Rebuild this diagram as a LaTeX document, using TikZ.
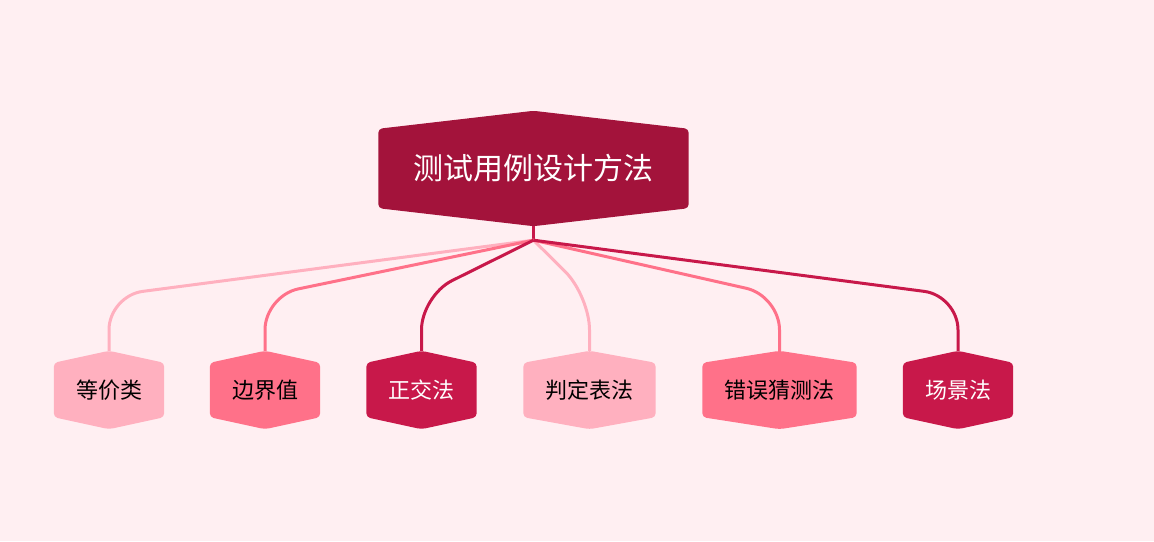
\documentclass[tikz,border=0pt]{standalone}
\usepackage{fontspec}
\newfontfamily\cjk{Noto Sans CJK SC}
\usetikzlibrary{positioning}

\definecolor{bgpink}{HTML}{FFEFF2}
\definecolor{rootred}{HTML}{A3133B}
\definecolor{lightpink}{HTML}{FFB0BF}
\definecolor{midpink}{HTML}{FF7189}
\definecolor{darkpink}{HTML}{C8184A}
\pgfdeclarelayer{bg}
\pgfdeclarelayer{hex}
\pgfsetlayers{bg,hex,main}

\begin{document}
\begin{tikzpicture}[x = 1pt, y = 1pt,
	topic/.style = {inner xsep = 35, inner ysep = 0, minimum height = 79, text = white, font = \cjk\fontsize{30}{34}\selectfont},
	leaf/.style = {inner xsep = 22, inner ysep = 0, minimum height = 54, font = \cjk\fontsize{22}{26}\selectfont},
	link/.style = {line width = 3, rounded corners = 34}]
	\useasboundingbox (0,0) rectangle (1154,541);
	\begin{pgfonlayer}{bg}
		\fill[bgpink] (0,0) rectangle (1154,541);
	\end{pgfonlayer}

	\node[topic] (ROOT) at (533.5,372.5) {测试用例设计方法};
	\node[leaf, text = black] (K1) at (109,151) {等价类};
	\node[leaf, text = black] (K2) at (265,151) {边界值};
	\node[leaf, text = white] (K3) at (421.5,151) {正交法};
	\node[leaf, text = black] (K4) at (589.5,151) {判定表法};
	\node[leaf, text = black] (K5) at (779.5,151) {错误猜测法};
	\node[leaf, text = white] (K6) at (958,151) {场景法};
	\coordinate (HUB) at ([yshift=-32]ROOT.south);

	\begin{pgfonlayer}{hex}
		% hexagons behind the labels
		\foreach \n/\c/\h in {ROOT/rootred/18, K1/lightpink/12, K2/midpink/12, K3/darkpink/12, K4/lightpink/12, K5/midpink/12, K6/darkpink/12}
			\fill[\c, rounded corners = 4] (\n.north west) -- ([yshift=\h]\n.north) -- (\n.north east) -- (\n.south east) -- ([yshift=-\h]\n.south) -- (\n.south west) -- cycle;

		\draw[line width = 3, darkpink] ([yshift=-18]ROOT.south) -- (HUB);
		\draw[link, lightpink] (HUB) -- ([yshift=67]K1.north) -- ([yshift=12]K1.north);
		\draw[link, lightpink] (HUB) -- ([yshift=67]K4.north) -- ([yshift=12]K4.north);
		\draw[link, midpink] (HUB) -- ([yshift=67]K2.north) -- ([yshift=12]K2.north);
		\draw[link, midpink] (HUB) -- ([yshift=67]K5.north) -- ([yshift=12]K5.north);
		\draw[link, darkpink] (HUB) -- ([yshift=67]K3.north) -- ([yshift=12]K3.north);
		\draw[link, darkpink] (HUB) -- ([yshift=67]K6.north) -- ([yshift=12]K6.north);
	\end{pgfonlayer}
\end{tikzpicture}
\end{document}
